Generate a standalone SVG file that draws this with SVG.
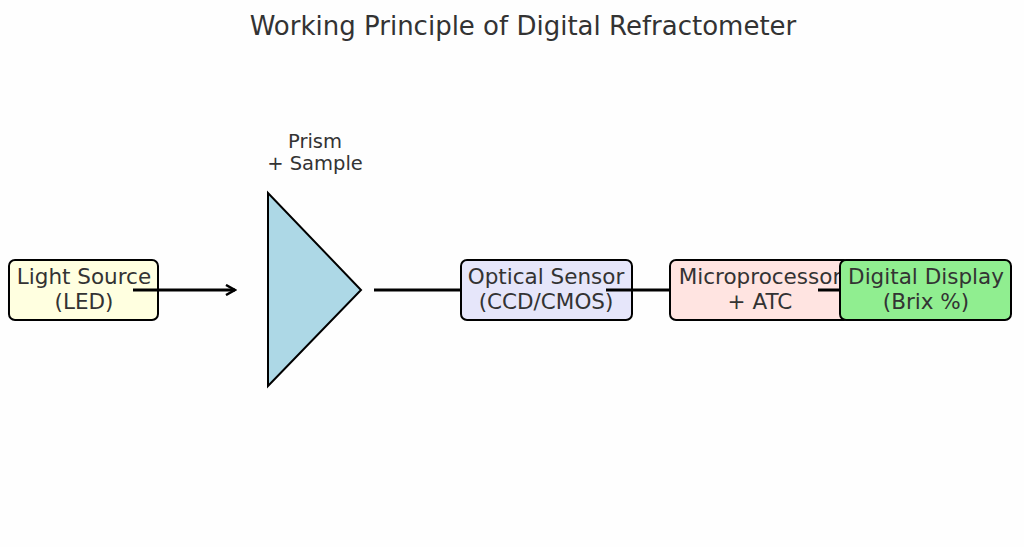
<svg xmlns="http://www.w3.org/2000/svg" width="1024" height="547" viewBox="0 0 1024 547">
<defs>
<style>
text{font-family:"DejaVu Sans","Noto Sans",sans-serif;fill:#333333;text-anchor:middle}
.t{font-size:26px}
.lbl{font-size:21.5px}
.pl{font-size:19.5px}
.box{stroke:#000;stroke-width:2}
.c{stroke:#000;stroke-width:3;fill:none}
</style>
<marker id="ah" viewBox="0 0 12 12" refX="10" refY="6" markerWidth="12" markerHeight="12" markerUnits="userSpaceOnUse" orient="auto">
<path d="M1,1 L10,6 L1,11" fill="none" stroke="#000" stroke-width="2.5"/>
</marker>
</defs>
<rect width="1024" height="547" fill="#fefefe"/>
<text class="t" x="523" y="35">Working Principle of Digital Refractometer</text>
<g id="light-source">
<rect class="box" x="9" y="260" width="149" height="60" rx="6" fill="#ffffe0"/>
<text class="lbl" x="84" y="284">Light Source</text>
<text class="lbl" x="84" y="309">(LED)</text>
</g>
<g id="prism">
<polygon points="268,193 268,386 361,290" fill="#add8e6" stroke="#000" stroke-width="2"/>
<text class="pl" x="315" y="148">Prism</text>
<text class="pl" x="315" y="170">+ Sample</text>
</g>
<g id="optical-sensor">
<rect class="box" x="461" y="260" width="171" height="60" rx="6" fill="#e6e6fa"/>
<text class="lbl" x="546" y="284">Optical Sensor</text>
<text class="lbl" x="546" y="309">(CCD/CMOS)</text>
</g>
<g id="microprocessor">
<rect class="box" x="670" y="260" width="180" height="60" rx="6" fill="#ffe4e1"/>
<text class="lbl" x="760" y="284">Microprocessor</text>
<text class="lbl" x="760" y="309">+ ATC</text>
</g>
<g id="digital-display">
<rect class="box" x="840" y="260" width="171" height="60" rx="6" fill="#90ee90"/>
<text class="lbl" x="926" y="284">Digital Display</text>
<text class="lbl" x="926" y="309">(Brix %)</text>
</g>
<g id="connectors">
<line class="c" x1="133" y1="290" x2="235" y2="290" marker-end="url(#ah)"/>
<line class="c" x1="374" y1="290" x2="461" y2="290"/>
<line class="c" x1="606" y1="290" x2="670" y2="290"/>
<line class="c" x1="818" y1="290" x2="840" y2="290"/>
</g>
</svg>
